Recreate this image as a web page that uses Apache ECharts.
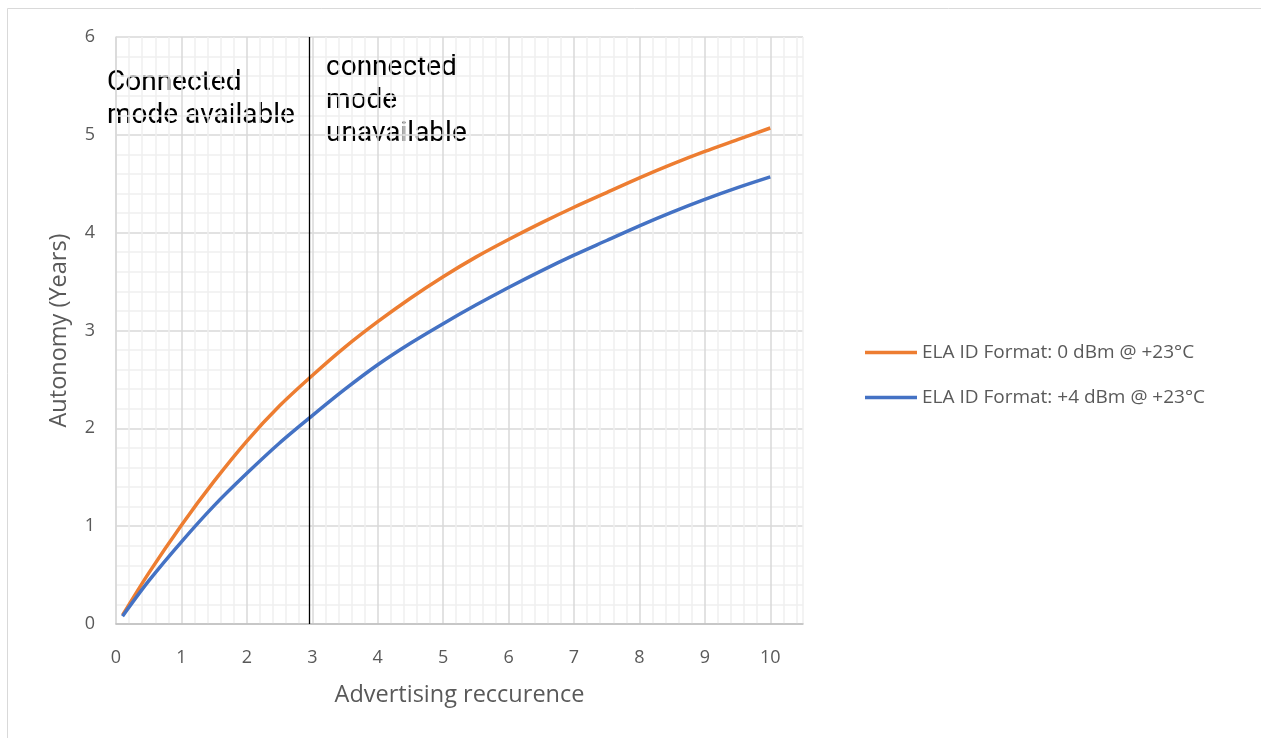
<!DOCTYPE html>
<html><head><meta charset="utf-8">
<script src="https://cdn.jsdelivr.net/npm/echarts@6/dist/echarts.min.js"></script>
<style>html,body{margin:0;padding:0;background:#fff}#c{width:1261px;height:738px}</style>
</head><body><div id="c"></div>
<script>
const xValues = [0.1, 0.5, 1, 1.5, 2, 2.5, 3, 3.5, 4, 4.5, 5, 5.5, 6, 6.5, 7, 7.5, 8, 8.5, 9, 9.5, 10];
const series0dBm = [0.09, 0.52, 1.01, 1.46, 1.87, 2.23, 2.54, 2.83, 3.09, 3.33, 3.55, 3.75, 3.93, 4.10, 4.26, 4.41, 4.56, 4.70, 4.83, 4.95, 5.07];
const series4dBm = [0.08, 0.44, 0.84, 1.21, 1.54, 1.85, 2.13, 2.40, 2.65, 2.87, 3.07, 3.26, 3.44, 3.61, 3.77, 3.92, 4.07, 4.21, 4.34, 4.46, 4.57];
const seriesNames = ['ELA ID Format: 0 dBm @ +23°C', 'ELA ID Format: +4 dBm @ +23°C'];
const dividerX = 2.95;
const xTitle = 'Advertising reccurence';
const yTitle = 'Autonomy (Years)';
const noteLeft = 'Connected\nmode available';
const noteRight = 'connected\nmode\nunavailable';

const chart = echarts.init(document.getElementById('c'));
const major = '#d9d9d9', minor = '#efefef';
const gridColors = [major, minor, minor, minor, minor];
const intLabel = v => (Math.abs(v - Math.round(v)) < 1e-6 ? String(Math.round(v)) : '');
chart.setOption({
  animation: false,
  backgroundColor: '#fff',
  grid: { left: 116, right: 458, top: 37, bottom: 114 },
  xAxis: {
    type: 'value', min: 0, max: 10.5, interval: 0.2,
    name: xTitle, nameLocation: 'middle', nameGap: 59,
    nameTextStyle: { color: '#595959', fontSize: 23.5, fontFamily: 'Open Sans' },
    axisLine: { show: true, lineStyle: { color: '#bfbfbf', width: 1.5 } },
    axisTick: { show: false },
    axisLabel: { formatter: intLabel, color: '#595959', fontSize: 18, fontFamily: 'Open Sans', margin: 25 },
    splitLine: { show: true, lineStyle: { color: gridColors, width: 1.5 } }
  },
  yAxis: {
    type: 'value', min: 0, max: 6, interval: 0.2,
    name: yTitle, nameLocation: 'middle', nameGap: 45, nameRotate: 90,
    nameTextStyle: { color: '#595959', fontSize: 23.5, fontFamily: 'Open Sans' },
    axisLine: { show: true, lineStyle: { color: major, width: 1.5 } },
    axisTick: { show: false },
    axisLabel: { formatter: intLabel, color: '#595959', fontSize: 18, fontFamily: 'Open Sans', margin: 21 },
    splitLine: { show: true, lineStyle: { color: gridColors, width: 1.5 } }
  },
  legend: {
    orient: 'vertical', left: 860, top: 338, itemGap: 26,
    icon: 'rect', itemWidth: 52, itemHeight: 3.5,
    textStyle: { color: '#595959', fontSize: 19, fontFamily: 'Open Sans' },
    data: seriesNames
  },
  series: [
    {
      name: seriesNames[0], type: 'line', smooth: 0.3, showSymbol: false,
      data: xValues.map((x, i) => [x, series0dBm[i]]),
      lineStyle: { color: '#ed7d31', width: 3.5 }, itemStyle: { color: '#ed7d31' },
      markLine: {
        silent: true, symbol: 'none', animation: false,
        label: { show: false },
        lineStyle: { color: '#000', width: 1.3, type: 'solid' },
        data: [{ xAxis: dividerX }]
      }
    },
    {
      name: seriesNames[1], type: 'line', smooth: 0.3, showSymbol: false,
      data: xValues.map((x, i) => [x, series4dBm[i]]),
      lineStyle: { color: '#4472c4', width: 3.5 }, itemStyle: { color: '#4472c4' }
    }
  ],
  graphic: [
    { type: 'rect', shape: { x: 7.5, y: 8.5, width: 1300, height: 800 }, style: { fill: 'none', stroke: '#d9d9d9', lineWidth: 1 }, z: -10 },
    { type: 'text', left: 107, top: 66, style: { text: noteLeft, fill: '#000', font: '28px Roboto', lineHeight: 33 } },
    { type: 'text', left: 326, top: 51, style: { text: noteRight, fill: '#000', font: '28px Roboto', lineHeight: 33 } }
  ]
});
</script></body></html>
